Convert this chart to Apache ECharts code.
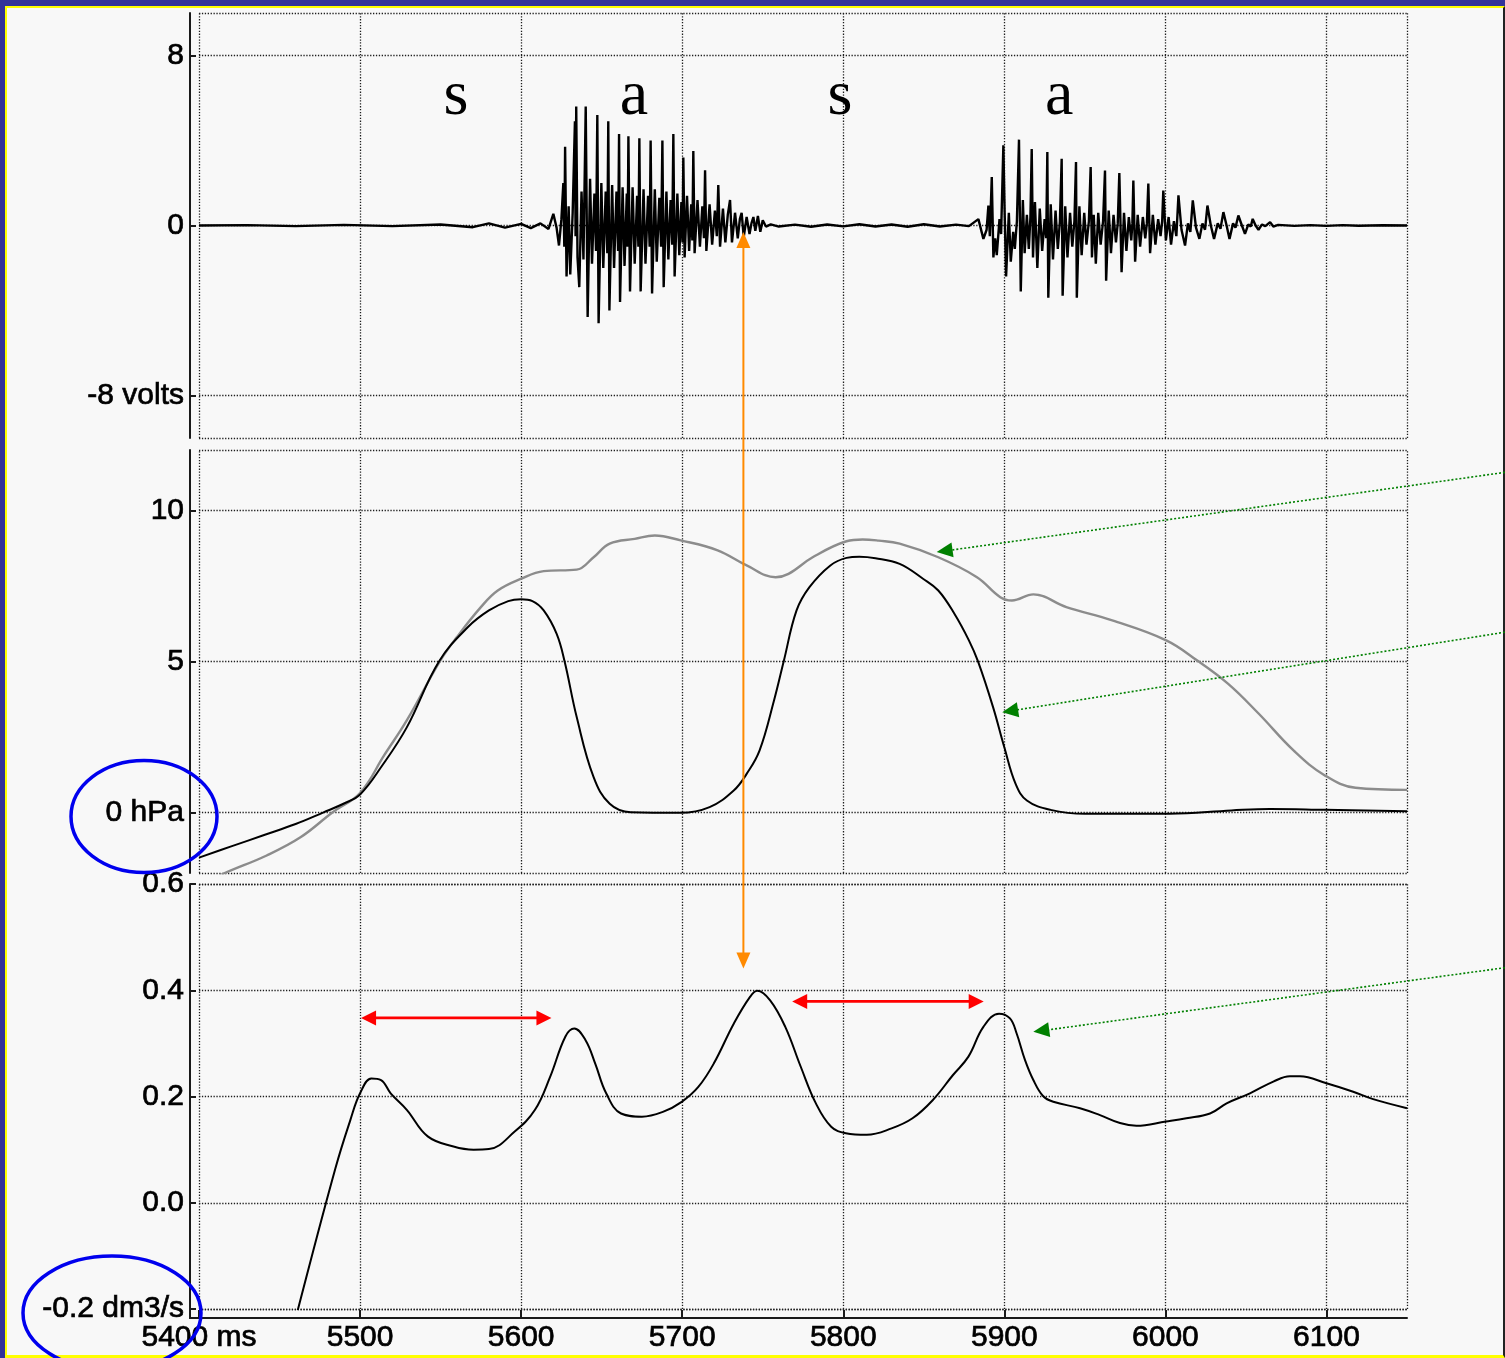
<!DOCTYPE html>
<html><head><meta charset="utf-8">
<script src="https://cdn.jsdelivr.net/npm/echarts@6/dist/echarts.min.js"></script>
<style>
html,body{margin:0;padding:0;width:1505px;height:1358px;overflow:hidden;background:#333399;}
#frame{position:absolute;left:5px;top:6px;width:1496px;height:1347px;background:#f8f8f8;border-left:2px solid #ffff00;border-top:2px solid #ffff00;border-bottom:3px solid #ffff00;border-right:2px solid #222;}
#chart{position:absolute;left:0;top:0;width:1505px;height:1358px;}
</style></head>
<body>
<div id="frame"></div>
<div id="chart"></div>
<script>
// ---------- axes / ticks ----------
const timeTicks = [5400, 5500, 5600, 5700, 5800, 5900, 6000, 6100];
const timeRange = [5400, 6150];
const voltTicks = [-8, 0, 8];
const voltRange = [-10, 10];
const pressureTicks = [0, 5, 10];
const pressureRange = [-2, 12];
const flowTicks = [-0.2, 0, 0.2, 0.4, 0.6];
const flowRange = [-0.2, 0.6];

// ---------- series: [ms, value] ----------
const audioWave = [
[5400,0],[5430,0.02],[5460,-0.03],[5490,0.03],[5520,-0.03],[5550,0.05],[5570,-0.08],[5580,0.1],[5590,-0.1],[5600,0.08],[5606,-0.12],[5612,0.1],[5617,-0.16],
[5620,0.55],[5622,-0.1],[5623.5,-0.94],[5625,0.3],
[5626.2,2.0],[5626.8,-1.0],[5627.3,3.7],[5628.2,-2.4],[5629.5,0.9],[5630.5,-2.3],[5632,0.6],
[5633.4,4.9],[5633.8,-0.5],[5634.2,5.6],[5635,-1.5],[5636.1,-2.9],[5637.5,1.6],[5638.7,-1.6],
[5640.1,5.6],[5641.3,-4.3],[5642.8,2.2],[5644,-1.8],[5645.5,1.5],[5646.5,-1.2],
[5647.3,5.2],[5648.1,-4.6],[5649.8,2.0],[5651,-2.0],[5652.5,1.6],[5653.5,-1.3],
[5654.1,4.9],[5654.8,-4.0],[5656.5,1.9],[5657.7,-2.0],[5659.2,1.6],[5660.2,-1.2],
[5660.8,4.3],[5661.4,-3.6],[5663,1.8],[5664.2,-1.9],[5665.6,1.5],[5666.1,-1.0],
[5666.6,4.2],[5667.6,-3.1],[5669.2,1.8],[5670.5,-1.8],[5672,1.4],[5672.8,-1.0],
[5673.4,4.1],[5674.2,-3.1],[5676,1.7],[5677.2,-1.8],[5678.8,1.4],[5679.8,-1.0],
[5680.4,4.0],[5681.3,-3.2],[5683,1.7],[5684.2,-1.7],[5685.8,1.3],[5686.9,-1.0],
[5687.7,4.0],[5688.5,-2.9],[5690.2,1.6],[5691.4,-1.6],[5692.8,1.2],[5693.8,-0.9],
[5694.5,4.3],[5695.3,-2.4],[5697,1.5],[5698.2,-1.4],[5699.5,1.1],[5700.2,-0.8],
[5700.7,3.2],[5701.5,-1.5],[5703,1.4],[5704.3,-1.2],[5705.6,1.0],[5706.3,-0.7],
[5706.9,3.5],[5707.7,-1.3],[5709.5,1.2],[5711,-1.0],[5712.5,0.9],[5713.5,-0.6],
[5714.2,2.6],[5715,-1.2],[5717,1.0],[5718.6,-0.9],[5720.3,0.7],[5721.5,-0.5],
[5722.4,1.9],[5723.5,-1.0],[5725.3,0.8],[5726.8,-0.8],[5728.3,0.5],
[5729.7,1.2],[5730.9,-0.8],[5732.8,0.6],[5734.5,-0.6],[5735.8,0.3],
[5736.9,0.6],[5738.2,-0.55],[5740,0.4],[5741.8,-0.4],[5743,0.1],
[5744.2,0.4],[5745.4,-0.25],[5747,0.45],[5748.5,-0.3],[5750,0.25],[5752,-0.05],[5755,0.05],
[5760,-0.05],[5770,0.04],[5780,-0.06],[5790,0.05],[5800,-0.04],[5810,0.06],[5820,-0.05],[5830,0.05],[5840,-0.06],[5850,0.06],[5860,-0.05],[5870,0.04],[5878,-0.03],
[5883.9,0.3],[5887,-0.63],[5889,-0.2],[5890.1,0.94],[5891,-0.5],[5892.2,2.28],[5893.2,-1.5],[5894.3,-0.6],[5895.3,-1.4],[5897,0.3],[5898,-0.4],
[5899.4,3.77],[5900.2,0.6],[5901.1,-2.4],[5902.8,0.6],[5904,-1.7],[5905.5,-0.3],[5906.5,-1.1],[5907.8,0.2],
[5909.1,4.04],[5910.2,-3.1],[5911.5,1.2],[5912.6,-1.3],[5914,0.5],[5915.2,-1.1],[5916.2,0.4],
[5917,3.6],[5917.8,-1.5],[5919,1.1],[5920.5,-2.0],[5922,0.8],[5923.5,-1.2],[5925,0.3],[5926,-0.6],
[5926.7,3.46],[5927.3,-3.4],[5928.8,1.0],[5930.2,-1.6],[5931.8,0.7],[5933.2,-1.1],[5934.5,0.2],
[5935.6,3.14],[5936.2,-3.3],[5937.8,0.9],[5939.2,-1.5],[5940.8,0.6],[5942.2,-1.0],[5943.5,0.2],
[5944.5,2.99],[5945,-3.4],[5946.6,0.9],[5948,-1.4],[5949.6,0.6],[5951,-0.9],[5952.5,0.2],
[5953.6,2.75],[5954.4,-1.5],[5955.5,0.5],[5956.8,-1.8],[5958.3,0.6],[5959.8,-0.9],[5961.3,0.2],
[5962.5,2.59],[5963.2,-2.6],[5964.8,0.7],[5966.2,-1.3],[5967.8,0.5],[5969.3,-0.8],[5970.4,0.1],
[5971.4,2.47],[5972.8,-2.2],[5974.3,0.6],[5975.8,-1.2],[5977.3,0.4],[5978.8,-0.7],[5979.5,0.1],
[5980.1,2.12],[5981.2,-1.7],[5982.8,0.5],[5984.3,-1.0],[5986,0.4],[5987.5,-0.6],[5988.5,0.1],
[5989.4,1.97],[5990.5,-1.3],[5992.2,0.5],[5993.8,-0.9],[5995.5,0.3],[5997,-0.5],[5998,0.2],
[5998.7,1.65],[6000.3,-0.7],[6002,0.4],[6003.5,-0.9],[6005.3,0.2],[6006.8,-0.5],
[6008.1,1.42],[6010,-0.2],[6012.2,-0.94],[6014,0.1],[6015.5,-0.3],
[6017,1.18],[6019,-0.1],[6021.1,-0.63],[6023,0.1],[6024.6,-0.2],
[6026.1,0.94],[6028.2,0.0],[6030.2,-0.63],[6032.5,0.1],[6034.2,-0.15],
[6036,0.63],[6038,0.0],[6039.8,-0.63],[6042,0.1],[6043.5,-0.1],
[6045.3,0.47],[6047.5,0.0],[6049.4,-0.39],[6051.5,0.05],[6053,-0.05],
[6054.2,0.31],[6056,0.0],[6057.8,-0.2],[6060,0.05],[6062,-0.03],
[6065,0.16],[6067,-0.05],[6070,0.03],[6080,-0.02],[6090,0.02],[6100,-0.02],[6110,0.02],[6120,-0.01],[6135,0.01],[6150,0]
];

const oralPressure = [
[5400,-1.49],[5420,-1.12],[5440,-0.75],[5460,-0.38],[5477,0.0],[5490,0.3],[5500,0.6],[5513,1.5],[5529,2.82],[5549,5.0],[5567,6.14],[5580,6.69],[5592,7.0],[5600,7.06],[5607,7.0],[5614,6.69],[5622,5.92],[5627,5.0],[5634.5,3.16],[5645,1.17],[5655,0.29],[5668,0.01],[5699,-0.01],[5717,0.18],[5732,0.73],[5740,1.28],[5748,2.05],[5757,3.71],[5763,5.0],[5771,6.69],[5779,7.46],[5792,8.18],[5802,8.43],[5810,8.47],[5820,8.42],[5835,8.23],[5849.5,7.74],[5859,7.35],[5869,6.58],[5878,5.70],[5883.6,5.01],[5893,3.49],[5900,2.16],[5907,0.95],[5914,0.40],[5928.7,0.09],[5950,-0.04],[6002.5,-0.04],[6041,0.07],[6065,0.12],[6099,0.09],[6150,0.04]
];

const subglottalPressure = [
[5410,-2.2],[5415,-2.03],[5442,-1.42],[5463,-0.82],[5483,0.01],[5500,0.65],[5515,1.9],[5529,3.05],[5549.5,5.0],[5560,5.8],[5575,6.8],[5585.5,7.35],[5600,7.74],[5614,7.99],[5634.5,8.04],[5645,8.45],[5655,8.90],[5670.5,9.06],[5683,9.17],[5699,9.01],[5722,8.68],[5740,8.18],[5758,7.79],[5766,7.90],[5781,8.45],[5802,8.98],[5812,9.04],[5822,9.0],[5835,8.90],[5859,8.45],[5883,7.79],[5897.5,7.13],[5904.7,7.02],[5918,7.22],[5938.5,6.80],[5967,6.36],[6000.5,5.70],[6019.8,5.03],[6039,4.26],[6058,3.27],[6079.7,2.05],[6099,1.23],[6118,0.82],[6150,0.75]
];

const airflow = [
[5455,-0.28],[5461.5,-0.2],[5484.7,0.065],[5494,0.156],[5500,0.206],[5507,0.234],[5513,0.231],[5519,0.206],[5529,0.175],[5542,0.125],[5558,0.106],[5570.5,0.1],[5580,0.101],[5596,0.134],[5608.6,0.175],[5618,0.237],[5627.5,0.313],[5633,0.328],[5640,0.306],[5646,0.262],[5652.8,0.206],[5662,0.168],[5675,0.162],[5688,0.171],[5699.7,0.19],[5710,0.218],[5719.6,0.262],[5732,0.337],[5742,0.387],[5746.6,0.399],[5754.6,0.381],[5764,0.331],[5773.6,0.256],[5783,0.187],[5792.5,0.143],[5801.6,0.131],[5814.6,0.128],[5830,0.14],[5843,0.159],[5855.5,0.193],[5868,0.24],[5877.7,0.275],[5887,0.331],[5896.7,0.356],[5903.5,0.347],[5907.6,0.319],[5912.8,0.269],[5918,0.231],[5924,0.201],[5930.4,0.19],[5947,0.178],[5959.4,0.165],[5971.8,0.15],[5982,0.145],[6000.4,0.153],[6013,0.159],[6027.7,0.168],[6038,0.187],[6052.5,0.206],[6067,0.228],[6077.3,0.238],[6083.5,0.238],[6100,0.225],[6116.6,0.209],[6129,0.195],[6150,0.178]
];

// ---------- annotations (data space) ----------
const segmentLabels = ['s', 'a', 's', 'a'];
const segmentTimes = [5559.6, 5670, 5798, 5934];
const segmentLabelVolt = 6.05;
const orangeArrow = { time: 5738, topVolt: -0.31, bottomFlow: 0.441 };
const redArrows = [[5500.6, 5618.8, 0.348], [5768.3, 5887.2, 0.379]];
const greenArrows = [
  { grid: 1, from: [6210.8, 11.26], to: [5858, 8.62] },
  { grid: 1, from: [6210.8, 5.97], to: [5898.7, 3.32] },
  { grid: 2, from: [6210.8, 0.4424], to: [5918, 0.3217] }
];
const unitCircles = [{ grid: 1, value: 0 }, { grid: 2, value: -0.2 }];

// ---------- layout / style ----------
const FONT = '"Liberation Sans", Arial, sans-serif';
const AXIS_OFFSET = 9;
const grids = [
  { left: 199, top: 13, width: 1208, height: 425 },
  { left: 199, top: 450, width: 1208, height: 423 },
  { left: 199, top: 884, width: 1208, height: 425 }
];
const yDefs = [
  { range: voltRange, ticks: voltTicks, fmt: v => (v === -8 ? '-8 volts' : String(v)) },
  { range: pressureRange, ticks: pressureTicks, fmt: v => (v === 0 ? '0 hPa' : String(v)) },
  { range: flowRange, ticks: flowTicks, fmt: v => (Math.abs(v + 0.2) < 1e-9 ? '-0.2 dm3/s' : (Math.abs(v) < 1e-9 ? '0.0' : v.toFixed(1))) }
];
const labelStyle = { fontFamily: FONT, fontSize: 30, color: '#000', textBorderColor: '#000', textBorderWidth: 0.7 };

function gridMarkLines(yDef) {
  const d = [];
  timeTicks.forEach(t => d.push({ xAxis: t }));
  d.push({ xAxis: timeRange[1] });
  yDef.ticks.forEach(v => d.push({ yAxis: v }));
  d.push({ yAxis: yDef.range[0] });
  d.push({ yAxis: yDef.range[1] });
  return {
    silent: true, symbol: ['none', 'none'], z: 1, animation: false,
    label: { show: false }, emphasis: { disabled: true },
    lineStyle: { color: '#1e1e1e', type: [1.3, 1.6], width: 1.3 },
    data: d
  };
}

const xAxes = grids.map((g, i) => ({
  type: 'value', gridIndex: i, min: timeRange[0], max: timeRange[1],
  show: i === 2, position: 'bottom', offset: AXIS_OFFSET,
  axisLine: { show: true, onZero: false, lineStyle: { color: '#1a1a1a', width: 2 } },
  axisTick: { show: true, inside: true, length: 8, customValues: timeTicks, lineStyle: { color: '#1a1a1a', width: 2 } },
  axisLabel: Object.assign({ show: true, customValues: timeTicks, margin: 5,
    formatter: v => (v === 5400 ? '5400 ms' : String(v)) }, labelStyle),
  splitLine: { show: false }
}));

const yAxes = yDefs.map((y, i) => ({
  type: 'value', gridIndex: i, min: y.range[0], max: y.range[1], position: 'left', offset: AXIS_OFFSET,
  axisLine: { show: true, onZero: false, lineStyle: { color: '#1a1a1a', width: 2 } },
  axisTick: { show: true, inside: true, length: 6, customValues: y.ticks, lineStyle: { color: '#1a1a1a', width: 2 } },
  axisLabel: Object.assign({ show: true, customValues: y.ticks, margin: 6,
    showMinLabel: true, showMaxLabel: true, formatter: y.fmt }, labelStyle),
  splitLine: { show: false }
}));

const lineBase = { type: 'line', showSymbol: false, symbol: 'none', animation: false, silent: true, clip: true };

const option = {
  animation: false,
  grid: grids,
  xAxis: xAxes,
  yAxis: yAxes,
  series: [
    Object.assign({}, lineBase, { name: 'audio', xAxisIndex: 0, yAxisIndex: 0, z: 3, data: audioWave,
      lineStyle: { color: '#000', width: 2.4 }, markLine: gridMarkLines(yDefs[0]) }),
    Object.assign({}, lineBase, { name: 'subglottal', xAxisIndex: 1, yAxisIndex: 1, z: 3, data: subglottalPressure, smooth: 0.4,
      lineStyle: { color: '#8c8c8c', width: 2.4 }, markLine: gridMarkLines(yDefs[1]) }),
    Object.assign({}, lineBase, { name: 'oral', xAxisIndex: 1, yAxisIndex: 1, z: 4, data: oralPressure, smooth: 0.4,
      lineStyle: { color: '#000', width: 2 } }),
    Object.assign({}, lineBase, { name: 'flow', xAxisIndex: 2, yAxisIndex: 2, z: 3, data: airflow, smooth: 0.4,
      lineStyle: { color: '#000', width: 2 }, markLine: gridMarkLines(yDefs[2]) })
  ]
};

const chart = echarts.init(document.getElementById('chart'), null, { renderer: 'canvas', width: 1505, height: 1358 });
chart.setOption(option);

// ---------- annotation graphics ----------
function toPx(grid, t, v) { return chart.convertToPixel({ gridIndex: grid }, [t, v]); }
function head(tip, tail, len, wid, color) {
  const dx = tip[0] - tail[0], dy = tip[1] - tail[1];
  const L = Math.hypot(dx, dy) || 1;
  const ux = dx / L, uy = dy / L;
  const bx = tip[0] - ux * len, by = tip[1] - uy * len;
  const nx = -uy, ny = ux;
  return {
    type: 'polygon', z: 100, silent: true,
    shape: { points: [[tip[0], tip[1]], [bx + nx * wid / 2, by + ny * wid / 2], [bx - nx * wid / 2, by - ny * wid / 2]] },
    style: { fill: color }
  };
}
function seg(a, b, color, w, dash) {
  return { type: 'line', z: 100, silent: true, shape: { x1: a[0], y1: a[1], x2: b[0], y2: b[1] },
    style: { stroke: color, lineWidth: w, lineDash: dash || null } };
}
function inset(a, b, d) {
  const dx = b[0] - a[0], dy = b[1] - a[1]; const L = Math.hypot(dx, dy) || 1;
  return [a[0] + dx / L * d, a[1] + dy / L * d];
}

const els = [];
// axis corner (y axis line meets x axis line, both offset from the plot)
{
  const corner = toPx(2, timeRange[0], flowRange[0]);
  const ax = corner[0] - AXIS_OFFSET, ay = corner[1] + AXIS_OFFSET;
  els.push({ type: 'polyline', z: 50, silent: true,
    shape: { points: [[ax, corner[1]], [ax, ay], [corner[0], ay]] },
    style: { stroke: '#1a1a1a', lineWidth: 2, fill: null } });
}
// segment labels
segmentLabels.forEach((s, i) => {
  const p = toPx(0, segmentTimes[i], segmentLabelVolt);
  els.push({ type: 'text', z: 100, silent: true, x: p[0], y: p[1],
    style: { text: s, font: '64px "Liberation Serif", "Times New Roman", serif', fill: '#000',
      align: 'center', verticalAlign: 'middle', textAlign: 'center', textVerticalAlign: 'middle' } });
});
// orange double arrow
{
  const top = toPx(0, orangeArrow.time, orangeArrow.topVolt);
  const bot = toPx(2, orangeArrow.time, orangeArrow.bottomFlow);
  const c = '#ff8a00';
  els.push(seg(inset(top, bot, 14), inset(bot, top, 14), c, 2));
  els.push(head(top, bot, 16, 14, c));
  els.push(head(bot, top, 16, 14, c));
}
// red double arrows
redArrows.forEach(r => {
  const a = toPx(2, r[0], r[2]), b = toPx(2, r[1], r[2]);
  const c = '#ff0000';
  els.push(seg(inset(a, b, 12), inset(b, a, 12), c, 2.6));
  els.push(head(a, b, 15, 15, c));
  els.push(head(b, a, 15, 15, c));
});
// green dotted arrows
greenArrows.forEach(g => {
  const a = toPx(g.grid, g.from[0], g.from[1]), b = toPx(g.grid, g.to[0], g.to[1]);
  const c = '#008000';
  els.push(seg(a, inset(b, a, 14), c, 1.6, [2, 2]));
  els.push(head(b, a, 16, 15, c));
});
// blue ellipses around unit labels
unitCircles.forEach((u, i) => {
  const p = toPx(u.grid, timeRange[0], u.value);
  const shape = i === 0 ? { cx: p[0] - 55, cy: p[1] + 4, rx: 73, ry: 56 } : { cx: p[0] - 87, cy: p[1] + 4, rx: 89, ry: 57 };
  els.push({ type: 'ellipse', z: 100, silent: true, shape: shape, style: { fill: 'none', stroke: '#0000ee', lineWidth: 3.5 } });
});
chart.setOption({ graphic: { elements: els } });
</script>
</body></html>
